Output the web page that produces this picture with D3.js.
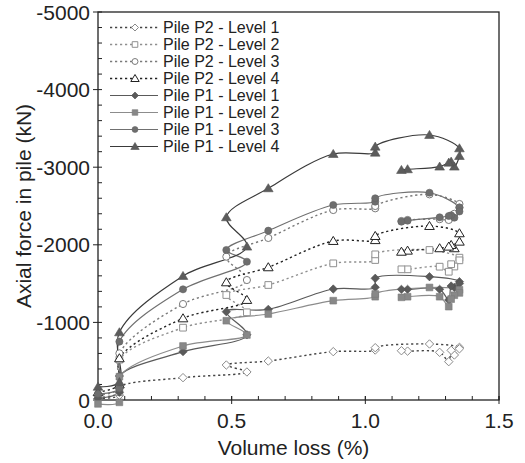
<!DOCTYPE html>
<html><head><meta charset="utf-8">
<script src="https://cdn.jsdelivr.net/npm/d3@7"></script>
<style>
html,body{margin:0;padding:0;background:#fff;}
svg{display:block;font-family:"Liberation Sans",Arial,Helvetica,sans-serif;}
</style></head>
<body><svg id="chart" width="525" height="463"></svg>
<script>
// Volume loss stages (shared x, in drawing order)
const stageX = [0, 0.08, 0.08, 0.318, 0.557, 0.480, 0.637, 0.880, 1.037, 1.037, 1.240, 1.352, 1.352, 1.333, 1.321, 1.312, 1.278, 1.158, 1.135];

const p2Level1 = [-20, -60, -163, -288, -361, -451, -502, -623, -644, -674, -722, -679, -660, -580, -640, -494, -614, -630, -635];
const p2Level2 = [-40, -100, -520, -932, -1130, -1353, -1482, -1761, -1804, -1877, -1933, -1834, -1800, -1720, -1750, -1653, -1718, -1684, -1684];
const p2Level3 = [-60, -150, -601, -1237, -1546, -1847, -2088, -2448, -2470, -2500, -2650, -2526, -2480, -2400, -2350, -2320, -2330, -2320, -2307];
const p2Level4 = [-100, -200, -537, -1052, -1289, -1516, -1710, -2049, -2060, -2113, -2242, -2148, -2040, -1955, -1997, -1976, -1955, -1924, -1910];
const p1Level1 = [-20, -100, -309, -623, -840, -1138, -1168, -1430, -1452, -1568, -1589, -1525, -1500, -1450, -1469, -1289, -1426, -1426, -1426];
const p1Level2 = [50, 30, -300, -696, -838, -1022, -1108, -1280, -1331, -1366, -1450, -1420, -1380, -1350, -1300, -1203, -1331, -1331, -1323];
const p1Level3 = [-80, -150, -752, -1426, -1782, -1933, -2182, -2513, -2556, -2599, -2671, -2480, -2430, -2350, -2380, -2371, -2354, -2311, -2298];
const p1Level4 = [-170, -230, -872, -1598, -1976, -2354, -2728, -3170, -3187, -3264, -3415, -3243, -3144, -3007, -3071, -3058, -3007, -2973, -2964];

const seriesNames = ["Pile P2 - Level 1","Pile P2 - Level 2","Pile P2 - Level 3","Pile P2 - Level 4",
                     "Pile P1 - Level 1","Pile P1 - Level 2","Pile P1 - Level 3","Pile P1 - Level 4"];
const seriesValues = [p2Level1,p2Level2,p2Level3,p2Level4,p1Level1,p1Level2,p1Level3,p1Level4];

const xTicks = [0, 0.5, 1.0, 1.5];
const yTicks = [0, -1000, -2000, -3000, -4000, -5000];

// styles
const styles = [
  {marker:"diamond", filled:false, line:"#444", mk:"#8a8a8a", dash:"2.2,2.8"},
  {marker:"square",  filled:false, line:"#8f8f8f", mk:"#8f8f8f", dash:"2.2,2.8"},
  {marker:"circle",  filled:false, line:"#7a7a7a", mk:"#7a7a7a", dash:"2.2,2.8"},
  {marker:"triangle",filled:false, line:"#222", mk:"#222", dash:"2.2,2.8"},
  {marker:"diamond", filled:true,  line:"#5a5a5a", mk:"#5a5a5a", dash:null},
  {marker:"square",  filled:true,  line:"#8c8c8c", mk:"#888", dash:null},
  {marker:"circle",  filled:true,  line:"#707070", mk:"#6e6e6e", dash:null},
  {marker:"triangle",filled:true,  line:"#3a3a3a", mk:"#5c5c5c", dash:null}
];

const svg = d3.select("#chart");
const L = 98, T = 12, R = 499, B = 400;
const x = d3.scaleLinear().domain([0, 1.5]).range([L, R]);
const y = d3.scaleLinear().domain([0, -5000]).range([B, T]);

function markerPath(type, s){
  if(type==="diamond") return `M0,${-s}L${s},0L0,${s}L${-s},0Z`;
  if(type==="square") return `M${-s*0.8},${-s*0.8}H${s*0.8}V${s*0.8}H${-s*0.8}Z`;
  if(type==="triangle") return `M0,${-s}L${s*1.05},${s*0.75}L${-s*1.05},${s*0.75}Z`;
  return null;
}
function drawMarker(g, type, filled, color, cx, cy, s){
  let el;
  if(type==="circle"){
    el = g.append("circle").attr("cx",cx).attr("cy",cy).attr("r",s*0.85);
  } else {
    el = g.append("path").attr("d", markerPath(type,s)).attr("transform",`translate(${cx},${cy})`);
  }
  el.attr("fill", filled ? color : "#fff").attr("stroke", filled ? d3.color(color).darker(0.3) : color).attr("stroke-width", filled?0.6:1);
}

// frame
svg.append("rect").attr("x",L).attr("y",T).attr("width",R-L).attr("height",B-T)
  .attr("fill","none").attr("stroke","#222").attr("stroke-width",1.3);

// x ticks
const xg = svg.append("g");
d3.range(0, 1.5001, 0.1).forEach(v=>{
  xg.append("line").attr("x1",x(v)).attr("x2",x(v)).attr("y1",B).attr("y2",B-4).attr("stroke","#222").attr("stroke-width",1);
});
xTicks.forEach(v=>{
  xg.append("line").attr("x1",x(v)).attr("x2",x(v)).attr("y1",B-4).attr("y2",B+4).attr("stroke","#222").attr("stroke-width",1);
  xg.append("text").attr("x",x(v)).attr("y",B+28).attr("text-anchor","middle")
    .attr("font-size",21).attr("fill","#222").text(d3.format(".1f")(v));
});
// y ticks
const yg = svg.append("g");
d3.range(0, -5001, -200).forEach(v=>{
  yg.append("line").attr("x1",L).attr("x2",L+4).attr("y1",y(v)).attr("y2",y(v)).attr("stroke","#222").attr("stroke-width",1);
});
yTicks.forEach(v=>{
  yg.append("line").attr("x1",L-5).attr("x2",L).attr("y1",y(v)).attr("y2",y(v)).attr("stroke","#222").attr("stroke-width",1);
  yg.append("text").attr("x",L-8).attr("y",y(v)).attr("dy","0.36em").attr("text-anchor","end")
    .attr("font-size",21).attr("fill","#222").text(v);
});

// axis titles
svg.append("text").attr("x",(L+R)/2 -5).attr("y",455).attr("text-anchor","middle")
  .attr("font-size",21).attr("fill","#222").text("Volume loss (%)");
svg.append("text").attr("transform",`translate(31,${(T+B)/2}) rotate(-90)`).attr("text-anchor","middle")
  .attr("font-size",21).attr("fill","#222").text("Axial force in pile (kN)");

// series
const line = d3.line().x(d=>x(d[0])).y(d=>y(d[1])).curve(d3.curveCatmullRom.alpha(0.5));
const plot = svg.append("g");
seriesValues.forEach((vals,i)=>{
  const st = styles[i];
  const pts = vals.map((v,k)=>[stageX[k], v]);
  plot.append("path").attr("d", line(pts)).attr("fill","none")
    .attr("stroke", st.line).attr("stroke-width", st.dash?1.4:1.2)
    .attr("stroke-dasharray", st.dash);
});
seriesValues.forEach((vals,i)=>{
  const st = styles[i];
  const g = plot.append("g");
  vals.forEach((v,k)=> drawMarker(g, st.marker, st.filled, st.mk, x(stageX[k]), y(v), st.marker==="triangle"?4.6:4.2));
});

// legend
const lg = svg.append("g");
const rowY = [27.5, 44.5, 61.5, 78.5, 95.5, 112.5, 129.5, 146.5];
seriesNames.forEach((name,i)=>{
  const st = styles[i];
  const yy = rowY[i];
  lg.append("line").attr("x1",110).attr("x2",158).attr("y1",yy).attr("y2",yy)
    .attr("stroke",st.line).attr("stroke-width",st.dash?1.4:1.2).attr("stroke-dasharray",st.dash);
  drawMarker(lg, st.marker, st.filled, st.mk, 135, yy, st.marker==="triangle"?4:3.5);
  lg.append("text").attr("x",163).attr("y",yy).attr("dy","0.36em").attr("font-size",16)
    .attr("fill","#222").text(name);
});
</script>
</body></html>
